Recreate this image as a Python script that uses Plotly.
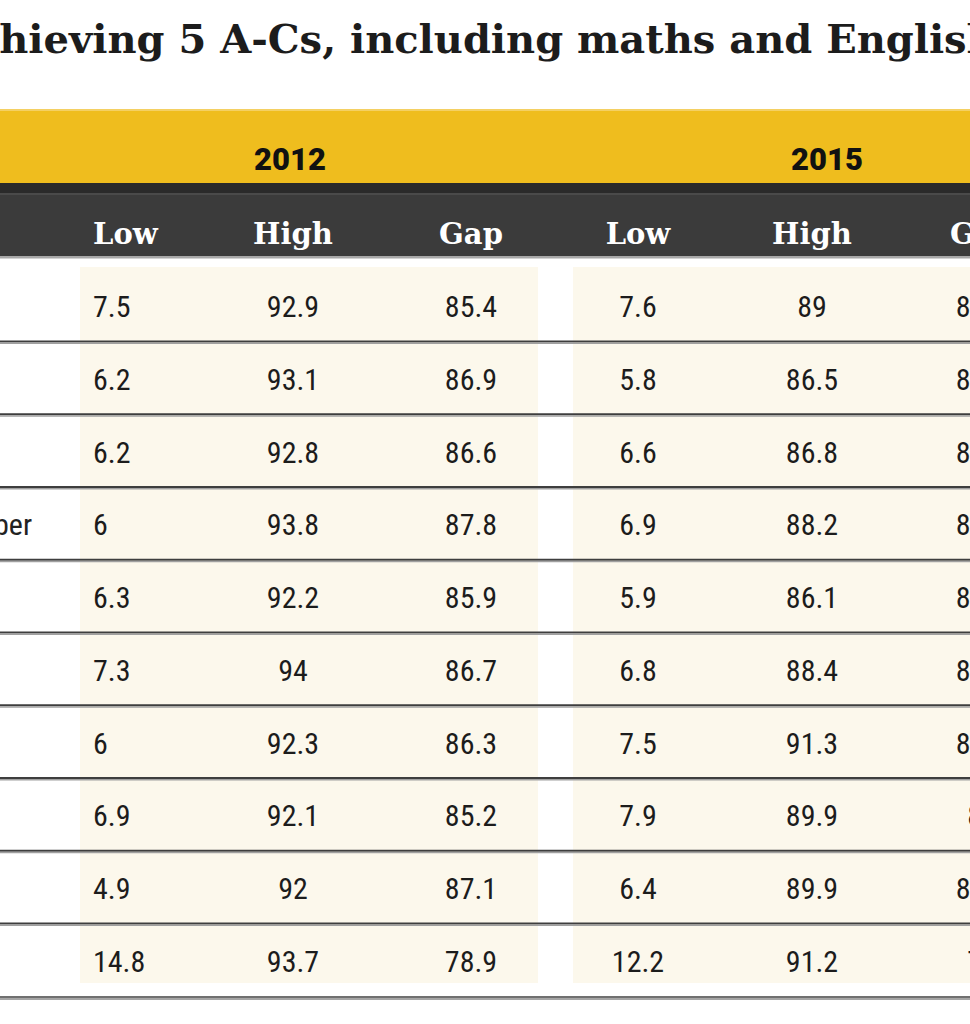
import plotly.graph_objects as go

# ---------------- data ----------------
title_text = "Pupils achieving 5 A-Cs, including maths and English"
years = ["2012", "2015"]
sub_headers = ["Low", "High", "Gap"]
regions = ["North East", "North West", "East Midlands", "Yorkshire and the Humber",
           "West Midlands", "South West", "East of England", "South East",
           "England", "London"]
low_2012 = [7.5, 6.2, 6.2, 6, 6.3, 7.3, 6, 6.9, 4.9, 14.8]
high_2012 = [92.9, 93.1, 92.8, 93.8, 92.2, 94, 92.3, 92.1, 92, 93.7]
gap_2012 = [85.4, 86.9, 86.6, 87.8, 85.9, 86.7, 86.3, 85.2, 87.1, 78.9]
low_2015 = [7.6, 5.8, 6.6, 6.9, 5.9, 6.8, 7.5, 7.9, 6.4, 12.2]
high_2015 = [89, 86.5, 86.8, 88.2, 86.1, 88.4, 91.3, 89.9, 89.9, 91.2]
gap_2015 = [81.4, 80.7, 80.2, 81.3, 80.2, 81.6, 83.8, 82, 83.5, 79]

# ---------------- layout constants (pixels) ----------------
W, H = 970, 1024
ROW0, ROW_H = 305.5, 72.75
TEXT_DY = 4          # optical offset for text baseline
col_x = [93, 293, 471, 638, 812, 982]
col_pos = ["middle right", "middle center", "middle center",
           "middle center", "middle center", "middle center"]
year_x = [290, 827]
label_x = -274

NUM_FONT = "Liberation Sans Narrow, Roboto Condensed, Arial Narrow, sans-serif"
SLAB_FONT = "DejaVu Serif, serif"

fmt = lambda v: f"{v:g}"
row_y = [ROW0 + TEXT_DY + ROW_H * i for i in range(len(regions))]

fig = go.Figure()

# title
fig.add_trace(go.Scatter(
    x=[-205], y=[43], mode="text", text=[title_text], textposition="middle right",
    textfont=dict(family=SLAB_FONT, size=40, color="#1c1c1c", weight="bold"),
    hoverinfo="skip", showlegend=False, cliponaxis=True))

# year headers
fig.add_trace(go.Scatter(
    x=year_x, y=[162] * len(years), mode="text", text=years, textposition="middle center",
    textfont=dict(family="Roboto, Liberation Sans, Arial, sans-serif", size=31,
                  color="#111111", weight=900),
    hoverinfo="skip", showlegend=False, cliponaxis=True))

# sub headers
fig.add_trace(go.Scatter(
    x=col_x, y=[237] * len(col_x), mode="text", text=sub_headers * 2,
    textposition=col_pos,
    textfont=dict(family=SLAB_FONT, size=29, color="#ffffff", weight="bold"),
    hoverinfo="skip", showlegend=False, cliponaxis=True))

# region labels (mostly cropped off the left edge)
fig.add_trace(go.Scatter(
    x=[label_x] * len(regions), y=row_y, mode="text", text=regions,
    textposition="middle right",
    textfont=dict(family=NUM_FONT, size=30, color="#222222"),
    hoverinfo="skip", showlegend=False, cliponaxis=True))

# value columns
for cx, cp, vals in zip(col_x, col_pos,
                        [low_2012, high_2012, gap_2012, low_2015, high_2015, gap_2015]):
    fig.add_trace(go.Scatter(
        x=[cx] * len(vals), y=row_y, mode="text", text=[fmt(v) for v in vals],
        textposition=cp,
        textfont=dict(family=NUM_FONT, size=30, color="#1c1c1c"),
        hoverinfo="skip", showlegend=False, cliponaxis=True))

shapes = []
def rect(x0, y0, x1, y1, color, layer="below"):
    shapes.append(dict(type="rect", xref="x", yref="y", x0=x0, y0=y0, x1=x1, y1=y1,
                       fillcolor=color, line=dict(width=0), layer=layer))

# cream column blocks
rect(80, 267, 538, 983, "#fcf8ec")
rect(573, 267, 1000, 983, "#fcf8ec")
# yellow band
rect(-10, 109, 1000, 183, "#efbd1e")
rect(-10, 109, 1000, 111, "#f4d063")
# dark header
rect(-10, 183, 1000, 256, "#3b3b3b")
rect(-10, 183, 1000, 193, "#2a2a2a")
rect(-10, 193, 1000, 195, "#4a4a4a")
rect(-10, 256, 1000, 258.5, "#a8a8a8")
# row rules
for i in range(len(regions) - 1):
    yr = ROW0 + ROW_H * (i + 0.5)
    rect(-10, yr - 1.5, 1000, yr + 0.5, "#3e3e3e", "above")
    rect(-10, yr + 0.5, 1000, yr + 2.2, "#a0a0a0", "above")
# bottom rule
rect(-10, 996, 1000, 998, "#707070", "above")
rect(-10, 998, 1000, 1000, "#a5a5a5", "above")

fig.update_layout(
    width=W, height=H, margin=dict(l=0, r=0, t=0, b=0),
    paper_bgcolor="#ffffff", plot_bgcolor="#ffffff",
    xaxis=dict(range=[0, W], visible=False, fixedrange=True),
    yaxis=dict(range=[H, 0], visible=False, fixedrange=True),
    shapes=shapes, showlegend=False,
)

fig.write_html("out.html", config={"displayModeBar": False},
               post_script="document.body.style.margin='0';document.body.style.overflow='hidden';")
